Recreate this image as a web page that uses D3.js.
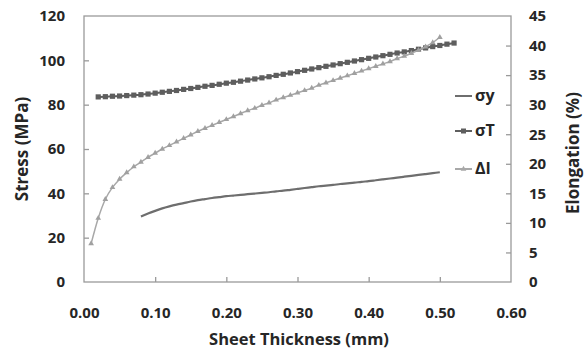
<!DOCTYPE html>
<html>
<head>
<meta charset="utf-8">
<script src="https://cdn.jsdelivr.net/npm/d3@7"></script>
<style>
  body { margin: 0; background: #fff; }
  text { font-family: "Open Sans", Lato, sans-serif; font-weight: bold; fill: #262626; }
</style>
</head>
<body>
<figure id="chart" style="margin:0"></figure>
<script>
// thickness (mm) for each series
const thickYield = [0.08,0.09,0.10,0.11,0.12,0.13,0.14,0.15,0.16,0.17,0.18,0.19,0.20,0.21,0.22,0.23,0.24,0.25,0.26,0.27,0.28,0.29,0.30,0.31,0.32,0.33,0.34,0.35,0.36,0.37,0.38,0.39,0.40,0.41,0.42,0.43,0.44,0.45,0.46,0.47,0.48,0.49,0.50];
const sigmaY = [29.5,30.9,32.1,33.2,34.1,34.9,35.6,36.3,36.9,37.4,37.9,38.3,38.7,39.0,39.3,39.6,39.9,40.2,40.5,40.9,41.2,41.6,42.0,42.4,42.8,43.2,43.5,43.8,44.2,44.5,44.8,45.2,45.5,45.9,46.3,46.7,47.1,47.5,47.9,48.3,48.7,49.1,49.5];

const thickTensile = [0.02,0.03,0.04,0.05,0.06,0.07,0.08,0.09,0.10,0.11,0.12,0.13,0.14,0.15,0.16,0.17,0.18,0.19,0.20,0.21,0.22,0.23,0.24,0.25,0.26,0.27,0.28,0.29,0.30,0.31,0.32,0.33,0.34,0.35,0.36,0.37,0.38,0.39,0.40,0.41,0.42,0.43,0.44,0.45,0.46,0.47,0.48,0.49,0.50,0.51,0.52];
const sigmaT = [83.5,83.6,83.8,83.9,84.1,84.3,84.5,84.8,85.2,85.6,86.0,86.4,86.9,87.3,87.8,88.3,88.7,89.2,89.7,90.1,90.6,91.1,91.6,92.1,92.6,93.2,93.7,94.3,94.9,95.5,96.1,96.7,97.3,97.9,98.5,99.1,99.7,100.3,100.9,101.5,102.1,102.7,103.3,103.8,104.4,105.0,105.6,106.2,106.7,107.3,107.8];

const thickElong = [0.01,0.02,0.03,0.04,0.05,0.06,0.07,0.08,0.09,0.10,0.11,0.12,0.13,0.14,0.15,0.16,0.17,0.18,0.19,0.20,0.21,0.22,0.23,0.24,0.25,0.26,0.27,0.28,0.29,0.30,0.31,0.32,0.33,0.34,0.35,0.36,0.37,0.38,0.39,0.40,0.41,0.42,0.43,0.44,0.45,0.46,0.47,0.48,0.49,0.50];
const elongation = [6.5,10.8,14.0,16.0,17.4,18.5,19.5,20.3,21.1,21.8,22.5,23.1,23.7,24.3,24.9,25.5,26.0,26.5,27.0,27.5,28.0,28.5,29.0,29.4,29.9,30.3,30.8,31.2,31.6,32.0,32.4,32.8,33.3,33.7,34.1,34.5,34.9,35.3,35.7,36.1,36.5,36.9,37.3,37.8,38.2,38.7,39.2,39.8,40.5,41.4];

const xTicks = [0, 0.1, 0.2, 0.3, 0.4, 0.5, 0.6];
const stressTicks = [0, 20, 40, 60, 80, 100, 120];
const elongTicks = [0, 5, 10, 15, 20, 25, 30, 35, 40, 45];
const legendNames = ["σy", "σT", "ΔI"];

const W = 587, H = 352;
const mLeft = 84, mRight = 511, mTop = 16, mBottom = 282;

const svg = d3.select("#chart").append("svg")
  .attr("width", W).attr("height", H);

const x = d3.scaleLinear().domain([0, 0.6]).range([mLeft, mRight]);
const yL = d3.scaleLinear().domain([0, 120]).range([mBottom, mTop]);
const yR = d3.scaleLinear().domain([0, 45]).range([mBottom, mTop]);

// plot frame
svg.append("rect")
  .attr("x", mLeft).attr("y", mTop)
  .attr("width", mRight - mLeft).attr("height", mBottom - mTop)
  .attr("fill", "none").attr("stroke", "#9a9a9a").attr("stroke-width", 1.3);

// axes (ticks point inward)
const axisX = svg.append("g").attr("transform", `translate(0,${mBottom})`)
  .call(d3.axisBottom(x).tickValues(xTicks).tickFormat(d3.format(".2f")).tickSize(-5).tickPadding(25));
const axisL = svg.append("g").attr("transform", `translate(${mLeft},0)`)
  .call(d3.axisLeft(yL).tickValues(stressTicks).tickSize(-5).tickPadding(19));
const axisR = svg.append("g").attr("transform", `translate(${mRight},0)`)
  .call(d3.axisRight(yR).tickValues(elongTicks).tickSize(-5).tickPadding(18));

[axisX, axisL, axisR].forEach(g => {
  g.select(".domain").remove();
  g.selectAll(".tick line").attr("stroke", "#9a9a9a").attr("stroke-width", 1.3);
  g.selectAll(".tick text").style("font-size", "15px").attr("fill", "#262626");
});
axisX.selectAll(".tick line").filter((d, i) => i === 0 || i === xTicks.length - 1).remove();
axisL.selectAll(".tick line").filter(d => d === 0 || d === 120).remove();
axisR.selectAll(".tick line").filter(d => d === 0 || d === 45).remove();

// axis titles
svg.append("text").attr("x", 299).attr("y", 345).attr("text-anchor", "middle")
  .style("font-size", "16.5px").text("Sheet Thickness (mm)");
svg.append("text").attr("transform", "translate(28,149) rotate(-90)").attr("text-anchor", "middle")
  .style("font-size", "17px").text("Stress (MPa)");
svg.append("text").attr("transform", "translate(579,153) rotate(-90)").attr("text-anchor", "middle")
  .style("font-size", "17px").text("Elongation (%)");

const line = d3.line().curve(d3.curveMonotoneX);

// σT: dark squares
const ptsT = thickTensile.map((t, i) => [x(t), yL(sigmaT[i])]);
svg.append("path").attr("d", line(ptsT)).attr("fill", "none")
  .attr("stroke", "#5e5e5e").attr("stroke-width", 2);
svg.append("g").selectAll("rect").data(ptsT).enter().append("rect")
  .attr("x", d => d[0] - 2.6).attr("y", d => d[1] - 2.6)
  .attr("width", 5.2).attr("height", 5.2).attr("fill", "#5e5e5e");

// ΔI: light triangles
const ptsE = thickElong.map((t, i) => [x(t), yR(elongation[i])]);
svg.append("path").attr("d", line(ptsE)).attr("fill", "none")
  .attr("stroke", "#a8a8a8").attr("stroke-width", 1.5);
svg.append("g").selectAll("path").data(ptsE).enter().append("path")
  .attr("d", d3.symbol(d3.symbolTriangle, 14))
  .attr("transform", d => `translate(${d[0]},${d[1]})`)
  .attr("fill", "#a0a0a0");

// σy: plain darker line
const ptsY = thickYield.map((t, i) => [x(t), yL(sigmaY[i])]);
svg.append("path").attr("d", line(ptsY)).attr("fill", "none")
  .attr("stroke", "#6e6e6e").attr("stroke-width", 2.2);

// legend
const legY = [96, 131, 169];
const leg = svg.append("g");
legendNames.forEach((name, i) => {
  const col = ["#6e6e6e", "#5e5e5e", "#a8a8a8"][i];
  leg.append("line").attr("x1", 455).attr("x2", 472).attr("y1", legY[i]).attr("y2", legY[i])
    .attr("stroke", col).attr("stroke-width", 2);
  if (i === 1) leg.append("rect").attr("x", 461).attr("y", legY[i] - 2.5).attr("width", 5).attr("height", 5).attr("fill", col);
  if (i === 2) leg.append("path").attr("d", d3.symbol(d3.symbolTriangle, 14))
    .attr("transform", `translate(463.5,${legY[i]})`).attr("fill", col);
  leg.append("text").attr("x", 475).attr("y", legY[i] + 5).style("font-size", "16px").text(name);
});
</script>
</body>
</html>
